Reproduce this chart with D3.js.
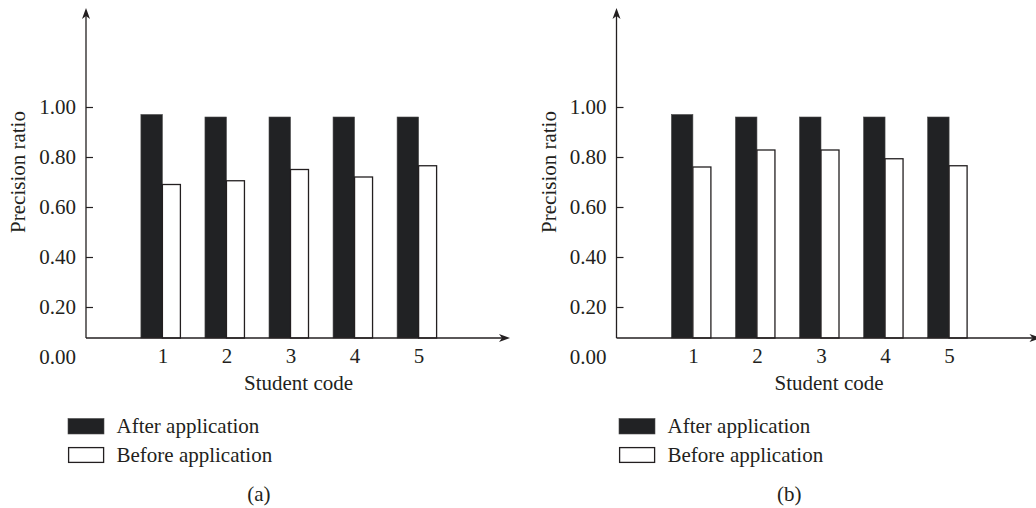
<!DOCTYPE html>
<html>
<head>
<meta charset="utf-8">
<script src="https://cdn.jsdelivr.net/npm/d3@7"></script>
<style>
  html, body { margin: 0; padding: 0; background: #fff; }
  svg text { font-family: "Liberation Serif", "Times New Roman", serif; fill: #231f20; }
</style>
</head>
<body>
<svg id="chart" width="1036" height="508"></svg>
<script>
// ---- data ----
const studentCodes = [1, 2, 3, 4, 5];
const afterA  = [0.97, 0.96, 0.96, 0.96, 0.96];
const beforeA = [0.69, 0.705, 0.75, 0.72, 0.765];
const afterB  = [0.97, 0.96, 0.96, 0.96, 0.96];
const beforeB = [0.76, 0.828, 0.828, 0.793, 0.765];
const yTicks  = [0, 0.2, 0.4, 0.6, 0.8, 1.0];
const seriesNames = ["After application", "Before application"];
const panelLabels = ["(a)", "(b)"];
const yTitle = "Precision ratio";
const xTitle = "Student code";

// ---- layout ----
const svg = d3.select("#chart");
const ink = "#231f20";
const fontSize = 21;

function drawPanel(ox, after, before, label, legendX) {
  const g = svg.append("g").attr("transform", `translate(${ox},0)`);
  const axisX = 86, axisY = 338, axisTop = 8, axisRight = 510;

  const y = d3.scaleLinear().domain([0, 1]).range([357, 107]);
  const x = d3.scaleLinear().domain([1, 5]).range([162.4, 418.6]);

  // bars
  const blackW = 21.5, whiteW = 18;
  g.selectAll("rect.after").data(studentCodes).join("rect")
    .attr("class", "after")
    .attr("x", (d) => x(d) - blackW)
    .attr("y", (d, i) => y(after[i]))
    .attr("width", blackW)
    .attr("height", (d, i) => axisY - y(after[i]))
    .attr("fill", "#212224")
    .attr("stroke", "#4a4a4a")
    .attr("stroke-width", 0.6);
  g.selectAll("rect.before").data(studentCodes).join("rect")
    .attr("class", "before")
    .attr("x", (d) => x(d))
    .attr("y", (d, i) => y(before[i]))
    .attr("width", whiteW)
    .attr("height", (d, i) => axisY - y(before[i]))
    .attr("fill", "#fff")
    .attr("stroke", ink)
    .attr("stroke-width", 1.3);

  // y axis ticks via d3 axis
  const yAxis = d3.axisLeft(y).tickValues(yTicks)
    .tickFormat(d3.format(".2f"))
    .tickSizeInner(-7).tickSizeOuter(0).tickPadding(10);
  const ya = g.append("g").attr("transform", `translate(${axisX},0)`).call(yAxis);
  ya.select(".domain").remove();
  ya.selectAll(".tick line").attr("stroke", ink).attr("stroke-width", 1.2)
    .filter((d) => d === 0).remove();
  ya.selectAll(".tick text")
    .attr("font-size", fontSize)
    .attr("font-family", "Liberation Serif, serif")
    .attr("fill", ink)
    .attr("dy", "0.33em");

  // x axis labels via d3 axis
  const xAxis = d3.axisBottom(x).tickValues(studentCodes)
    .tickFormat(d3.format("d")).tickSize(0).tickPadding(0);
  const xa = g.append("g").attr("transform", `translate(0,${y(0)})`).call(xAxis);
  xa.select(".domain").remove();
  xa.selectAll(".tick text")
    .attr("font-size", fontSize)
    .attr("font-family", "Liberation Serif, serif")
    .attr("fill", ink)
    .attr("dy", "0.28em")
    .attr("y", 0);

  // axis lines with arrows
  g.append("line").attr("x1", axisX).attr("y1", axisY).attr("x2", axisX).attr("y2", axisTop + 8)
    .attr("stroke", ink).attr("stroke-width", 1.3);
  g.append("line").attr("x1", axisX).attr("y1", axisY).attr("x2", axisRight - 8).attr("y2", axisY)
    .attr("stroke", ink).attr("stroke-width", 1.3);
  g.append("path")
    .attr("d", `M${axisX},${axisTop} L${axisX - 4},${axisTop + 11} L${axisX},${axisTop + 8} L${axisX + 4},${axisTop + 11} Z`)
    .attr("fill", ink);
  g.append("path")
    .attr("d", `M${axisRight},${axisY} L${axisRight - 11},${axisY - 4} L${axisRight - 8},${axisY} L${axisRight - 11},${axisY + 4} Z`)
    .attr("fill", ink);

  // titles
  g.append("text").attr("x", 298.5).attr("y", 390).attr("text-anchor", "middle")
    .attr("font-size", fontSize).text(xTitle);
  g.append("text").attr("transform", "translate(25,172) rotate(-90)")
    .attr("text-anchor", "middle").attr("font-size", fontSize).text(yTitle);

  // legend
  const lg = svg.append("g").attr("transform", `translate(${legendX},0)`);
  lg.append("rect").attr("x", 0).attr("y", 418.5).attr("width", 36).attr("height", 15.5)
    .attr("fill", "#212224").attr("stroke", "#4a4a4a").attr("stroke-width", 0.6);
  lg.append("rect").attr("x", 0.6).attr("y", 447.6).attr("width", 35).attr("height", 14.8)
    .attr("fill", "#fff").attr("stroke", ink).attr("stroke-width", 1.3);
  lg.append("text").attr("x", 48.5).attr("y", 433).attr("font-size", fontSize).text(seriesNames[0]);
  lg.append("text").attr("x", 48.5).attr("y", 461.5).attr("font-size", fontSize).text(seriesNames[1]);

  // panel label
  g.append("text").attr("x", 258.8).attr("y", 501).attr("text-anchor", "middle")
    .attr("font-size", fontSize).text(label);
}

drawPanel(0, afterA, beforeA, panelLabels[0], 68);
drawPanel(530.5, afterB, beforeB, panelLabels[1], 619);
</script>
</body>
</html>
